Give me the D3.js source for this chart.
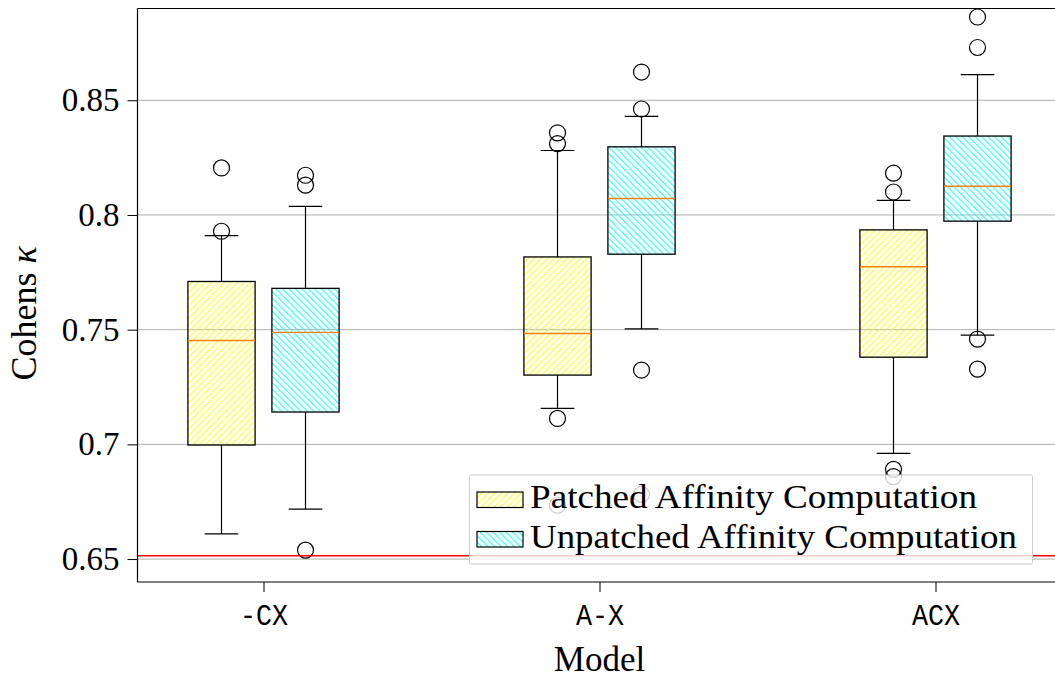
<!DOCTYPE html>
<html>
<head>
<meta charset="utf-8">
<script src="https://cdn.jsdelivr.net/npm/d3@7"></script>
<style>
  body { margin: 0; background: #fff; }
  svg text { font-family: "Liberation Serif", "DejaVu Serif", serif; }
</style>
</head>
<body>
<svg id="chart" width="1055" height="679"></svg>
<script>
// model variants on the x axis
const categories = ['-CX', 'A-X', 'ACX'];
const seriesNames = ['Patched Affinity Computation', 'Unpatched Affinity Computation'];

// box statistics per model: [whiskerLo, q1, median, q3, whiskerHi]
const patchedStats = [
  [0.6610, 0.6997, 0.7453, 0.7710, 0.7910],
  [0.7157, 0.7302, 0.7483, 0.7817, 0.8281],
  [0.6961, 0.7380, 0.7774, 0.7935, 0.8064]
];
const unpatchedStats = [
  [0.6718, 0.7141, 0.7488, 0.7680, 0.8037],
  [0.7503, 0.7829, 0.8072, 0.8297, 0.8430],
  [0.7476, 0.7973, 0.8125, 0.8344, 0.8612]
];
const patchedOutliers = [
  [0.8205, 0.7929],
  [0.8358, 0.8311, 0.7113, 0.6735],
  [0.8182, 0.8100, 0.6891, 0.6859]
];
const unpatchedOutliers = [
  [0.8173, 0.8130, 0.6539],
  [0.8623, 0.8462, 0.7324, 0.6782],
  [0.8863, 0.8730, 0.7459, 0.7328]
];
const yTicks = [0.65, 0.7, 0.75, 0.8, 0.85];
const yTickLabels = ['0.65', '0.7', '0.75', '0.8', '0.85'];
const baselineKappa = 0.6514;

const svg = d3.select('#chart');
const margin = {left: 137.5, top: 8.5, bottom: 582};

const x = d3.scaleLinear().domain([0.625, 3.375]).range([margin.left, 1061.5]);
const y = d3.scaleLinear().domain([0.64, 0.89]).range([margin.bottom, margin.top]);
const unit = x(2) - x(1);

// hatch patterns
const defs = svg.append('defs');
function hatch(id, color, dir) {
  const p = defs.append('pattern')
    .attr('id', id)
    .attr('patternUnits', 'userSpaceOnUse')
    .attr('width', 6.5).attr('height', 6.5);
  p.append('path')
    .attr('d', dir > 0 ? 'M-1,1 L1,-1 M0,6.5 L6.5,0 M5.5,7.5 L7.5,5.5' : 'M-1,5.5 L1,7.5 M0,0 L6.5,6.5 M5.5,-1 L7.5,1')
    .attr('stroke', color).attr('stroke-width', 1);
}
hatch('hatchYellow', '#ffff00', 1);
hatch('hatchCyan', '#00ffff', -1);

// grid
svg.append('g').selectAll('line').data(yTicks).enter().append('line')
  .attr('x1', margin.left).attr('x2', 1055)
  .attr('y1', d => y(d)).attr('y2', d => y(d))
  .attr('stroke', '#b0b0b0').attr('stroke-width', 1);

const series = [
  {stats: patchedStats, outliers: patchedOutliers, offset: -0.125, fill: 'url(#hatchYellow)'},
  {stats: unpatchedStats, outliers: unpatchedOutliers, offset: 0.125, fill: 'url(#hatchCyan)'}
];

const boxW = 0.2 * unit;
const capW = 0.1 * unit;

series.forEach(s => {
  const g = svg.append('g');
  s.stats.forEach((st, i) => {
    const cx = x(i + 1 + s.offset);
    const [lo, q1, med, q3, hi] = st;
    // whiskers
    g.append('line').attr('x1', cx).attr('x2', cx).attr('y1', y(q1)).attr('y2', y(lo))
      .attr('stroke', '#000').attr('stroke-width', 1.2);
    g.append('line').attr('x1', cx).attr('x2', cx).attr('y1', y(q3)).attr('y2', y(hi))
      .attr('stroke', '#000').attr('stroke-width', 1.2);
    [lo, hi].forEach(v => {
      g.append('line').attr('x1', cx - capW / 2).attr('x2', cx + capW / 2)
        .attr('y1', y(v)).attr('y2', y(v))
        .attr('stroke', '#000').attr('stroke-width', 1.2);
    });
    // box
    g.append('rect')
      .attr('x', cx - boxW / 2).attr('width', boxW)
      .attr('y', y(q3)).attr('height', y(q1) - y(q3))
      .attr('fill', s.fill).attr('stroke', '#000').attr('stroke-width', 1.3);
    // median
    g.append('line').attr('x1', cx - boxW / 2).attr('x2', cx + boxW / 2)
      .attr('y1', y(med)).attr('y2', y(med))
      .attr('stroke', '#ff7f0e').attr('stroke-width', 1.4);
    // fliers
    g.selectAll('.flier' + i).data(s.outliers[i]).enter().append('circle')
      .attr('cx', cx).attr('cy', d => y(d)).attr('r', 8)
      .attr('fill', 'none').attr('stroke', '#000').attr('stroke-width', 1.2);
  });
});

// red reference line
svg.append('line')
  .attr('x1', margin.left).attr('x2', 1055)
  .attr('y1', y(baselineKappa)).attr('y2', y(baselineKappa))
  .attr('stroke', '#ff0000').attr('stroke-width', 1.5);

// spines
svg.append('line').attr('x1', margin.left).attr('x2', margin.left)
  .attr('y1', margin.top).attr('y2', margin.bottom).attr('stroke', '#000').attr('stroke-width', 1.2);
svg.append('line').attr('x1', margin.left).attr('x2', 1055)
  .attr('y1', margin.top).attr('y2', margin.top).attr('stroke', '#000').attr('stroke-width', 1.2);
svg.append('line').attr('x1', margin.left).attr('x2', 1055)
  .attr('y1', margin.bottom).attr('y2', margin.bottom).attr('stroke', '#000').attr('stroke-width', 1.2);

// y axis
const yAxis = d3.axisLeft(y).tickValues(yTicks).tickSize(10).tickPadding(8)
  .tickFormat((d, i) => yTickLabels[i]);
const gy = svg.append('g').attr('transform', `translate(${margin.left},0)`).call(yAxis);
gy.select('.domain').remove();
gy.selectAll('.tick line').attr('stroke', '#000').attr('stroke-width', 1);
gy.selectAll('.tick text').attr('font-size', 33).attr('fill', '#000')
  .style('font-family', '"Liberation Serif", serif');

// x axis
const xAxis = d3.axisBottom(x).tickValues([1, 2, 3]).tickSize(10).tickPadding(12)
  .tickFormat((d, i) => categories[i]);
const gx = svg.append('g').attr('transform', `translate(0,${margin.bottom})`).call(xAxis);
gx.select('.domain').remove();
gx.selectAll('.tick line').attr('stroke', '#000').attr('stroke-width', 1);
gx.selectAll('.tick text').attr('font-size', 29).attr('fill', '#000')
  .attr('textLength', 48).attr('lengthAdjust', 'spacingAndGlyphs')
  .style('font-family', '"Liberation Mono", "DejaVu Sans Mono", monospace');

// axis labels
svg.append('text').attr('x', x(2)).attr('y', 671).attr('text-anchor', 'middle')
  .attr('font-size', 35).text('Model');
svg.append('text')
  .attr('transform', `translate(36,${(margin.top + margin.bottom) / 2 + 18}) rotate(-90)`)
  .attr('text-anchor', 'middle').attr('font-size', 36)
  .html('Cohens <tspan font-style="italic">κ</tspan>');

// legend
const lg = svg.append('g');
lg.append('rect').attr('x', 469.5).attr('y', 475).attr('width', 563).attr('height', 89)
  .attr('fill', '#fff').attr('fill-opacity', 0.8)
  .attr('stroke', '#cccccc').attr('stroke-width', 1).attr('rx', 1.5);
const legendFills = ['url(#hatchYellow)', 'url(#hatchCyan)'];
seriesNames.forEach((name, i) => {
  const yy = 492 + i * 39.5;
  lg.append('rect').attr('x', 477).attr('y', yy).attr('width', 46).attr('height', 15.5)
    .attr('fill', legendFills[i]).attr('stroke', '#000').attr('stroke-width', 1.2);
  lg.append('text').attr('x', 530).attr('y', yy + 16).attr('font-size', 33)
    .attr('textLength', i === 0 ? 447 : 487).attr('lengthAdjust', 'spacingAndGlyphs')
    .text(name);
});
</script>
</body>
</html>
